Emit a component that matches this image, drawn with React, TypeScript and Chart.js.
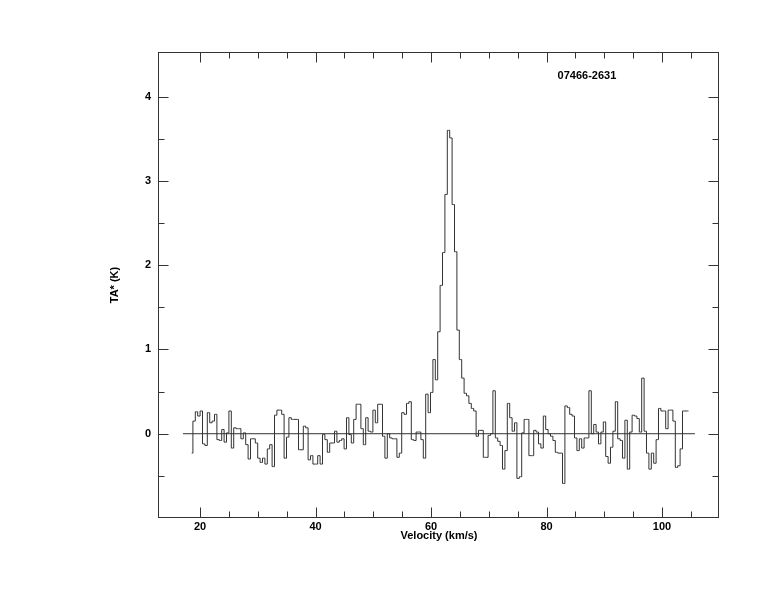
import React, { useEffect, useRef } from "react";
import { Chart, registerables } from "chart.js";

Chart.register(...registerables);

// Spectrum channels: first channel centre (km/s) and channel width (km/s)
const CHANNEL_START = 18.563;
const CHANNEL_WIDTH = 0.41558;

// Antenna temperature TA* (K) per channel
const TA_VALUES = [
  -0.23, 0.15, 0.26, 0.21, 0.27, -0.12, -0.14, 0.25, 0.13, 0.15,
  0.23, -0.07, -0.08, 0.05, -0.10, 0.01, 0.27, -0.17, 0.07, 0.06,
  0.06, -0.06, 0.01, -0.13, -0.30, -0.06, -0.06, -0.11, -0.29, -0.34,
  -0.29, -0.36, -0.18, -0.13, -0.39, 0.22, 0.28, 0.28, 0.23, -0.29,
  -0.04, 0.19, 0.17, 0.17, 0.17, -0.19, -0.19, 0.09, 0.07, -0.31,
  -0.26, -0.36, -0.36, -0.26, -0.36, -0.01, -0.07, -0.22, -0.11, -0.11,
  0.03, -0.10, -0.08, -0.06, -0.18, 0.19, -0.01, -0.11, 0.17, 0.35,
  0.35, 0.06, -0.13, 0.19, 0.03, 0.02, 0.28, 0.13, 0.35, 0.35,
  -0.03, -0.29, 0.00, -0.05, -0.06, -0.06, -0.28, -0.23, 0.25, 0.23,
  0.36, 0.38, -0.07, -0.08, 0.02, 0.02, -0.07, -0.29, 0.47, 0.25,
  0.49, 0.88, 0.64, 1.21, 1.76, 2.15, 2.84, 3.60, 3.51, 2.72,
  2.16, 1.23, 0.88, 0.66, 0.48, 0.45, 0.36, 0.30, 0.27, -0.03,
  0.04, 0.04, -0.28, -0.28, -0.02, 0.00, 0.51, -0.05, -0.09, -0.14,
  -0.42, -0.20, 0.36, 0.19, 0.03, 0.13, -0.53, -0.51, 0.01, 0.17,
  0.17, -0.26, -0.26, 0.04, 0.02, -0.12, -0.17, 0.21, 0.05, 0.00,
  -0.03, -0.08, -0.22, -0.23, -0.23, -0.59, 0.33, 0.31, 0.23, 0.21,
  -0.05, -0.20, -0.06, -0.17, -0.05, -0.05, 0.51, 0.00, 0.11, 0.02,
  -0.12, 0.02, 0.14, -0.27, -0.35, -0.16, 0.03, 0.38, -0.06, -0.08,
  -0.29, 0.16, -0.42, 0.02, 0.22, 0.21, 0.18, 0.02, 0.66, 0.03,
  -0.23, -0.42, -0.23, -0.35, -0.07, 0.30, 0.27, 0.27, 0.06, 0.28,
  0.28, 0.15, -0.40, -0.38, -0.18, 0.27, 0.27, 0.27,
];

// Baseline (TA* = 0) drawn across the spectrum
const BASELINE_X = [17.06, 105.7];
const BASELINE_Y = [0, 0];

// Axis ranges and ticks
const X_RANGE = [12.9, 109.87];
const Y_RANGE = [-1.0, 4.53];
const X_TICKS = [20, 40, 60, 80, 100];
const X_MINOR = [25, 30, 35, 45, 50, 55, 65, 70, 75, 85, 90, 95, 105];
const Y_TICKS = [0, 1, 2, 3, 4];
const Y_MINOR = [-0.5, 0.5, 1.5, 2.5, 3.5];

const X_TITLE = "Velocity (km/s)";
const Y_TITLE = "TA* (K)";
const SOURCE_NAME = "07466-2631";
const SOURCE_POS = [87.0, 4.25];

const LINE_COLOR = "#333333";
const FONT = 'bold 11px "Liberation Sans", Arial, Helvetica, sans-serif';

const framePlugin = {
  id: "frameTicks",
  afterDraw(chart: any) {
    const { ctx, chartArea: a, scales } = chart;
    const xs = scales.x;
    const ys = scales.y;
    ctx.save();
    ctx.strokeStyle = LINE_COLOR;
    ctx.lineWidth = 1;
    const L = Math.round(a.left) - 0.5;
    const R = Math.round(a.right) - 0.5;
    const T = Math.round(a.top) + 0.5;
    const B = Math.round(a.bottom) - 0.5;
    ctx.strokeRect(L, T, R - L, B - T);
    ctx.beginPath();
    const xt = (v: number, len: number) => {
      const px = Math.round(xs.getPixelForValue(v)) + 0.5;
      ctx.moveTo(px, B);
      ctx.lineTo(px, B - len);
      ctx.moveTo(px, T);
      ctx.lineTo(px, T + len);
    };
    const yt = (v: number, len: number) => {
      const py = Math.round(ys.getPixelForValue(v)) + 0.5;
      ctx.moveTo(L, py);
      ctx.lineTo(L + len, py);
      ctx.moveTo(R, py);
      ctx.lineTo(R - len, py);
    };
    X_TICKS.forEach((v) => xt(v, 10));
    X_MINOR.forEach((v) => xt(v, 6));
    Y_TICKS.forEach((v) => yt(v, 10));
    Y_MINOR.forEach((v) => yt(v, 6));
    ctx.stroke();

    ctx.fillStyle = "#000";
    ctx.font = FONT;
    ctx.textAlign = "center";
    ctx.textBaseline = "middle";
    ctx.fillText(X_TITLE, (a.left + a.right) / 2, a.bottom + 18);
    ctx.save();
    ctx.translate(a.left - 44, (a.top + a.bottom) / 2);
    ctx.rotate(-Math.PI / 2);
    ctx.fillText(Y_TITLE, 0, 0);
    ctx.restore();
    ctx.fillText(
      SOURCE_NAME,
      xs.getPixelForValue(SOURCE_POS[0]),
      ys.getPixelForValue(SOURCE_POS[1])
    );
    ctx.restore();
  },
};

export default function App() {
  const ref = useRef<HTMLCanvasElement | null>(null);

  useEffect(() => {
    if (!ref.current) return;
    const spectrum = TA_VALUES.map((y, i) => ({
      x: CHANNEL_START + i * CHANNEL_WIDTH,
      y,
    }));
    const baseline = BASELINE_X.map((x, i) => ({ x, y: BASELINE_Y[i] }));
    const chart = new Chart(ref.current, {
      type: "line",
      data: {
        datasets: [
          {
            data: spectrum,
            stepped: "middle",
            borderColor: LINE_COLOR,
            borderWidth: 1,
            pointRadius: 0,
            fill: false,
          },
          {
            data: baseline,
            borderColor: LINE_COLOR,
            borderWidth: 1,
            pointRadius: 0,
            fill: false,
          },
        ],
      },
      options: {
        animation: false,
        responsive: false,
        events: [],
        layout: { padding: { left: 0, right: 55, top: 52, bottom: 0 } },
        plugins: {
          legend: { display: false },
          tooltip: { enabled: false },
          title: { display: false },
        },
        scales: {
          x: {
            type: "linear",
            min: X_RANGE[0],
            max: X_RANGE[1],
            grid: { display: false, drawTicks: false },
            border: { display: false },
            afterBuildTicks: (s: any) => {
              s.ticks = X_TICKS.map((value) => ({ value }));
            },
            afterFit: (s: any) => {
              s.height = 94;
            },
            ticks: {
              color: "#000",
              font: { family: '"Liberation Sans", Arial, sans-serif', size: 11, weight: "bold" },
              padding: 2,
              maxRotation: 0,
              autoSkip: false,
            },
          },
          y: {
            type: "linear",
            min: Y_RANGE[0],
            max: Y_RANGE[1],
            grid: { display: false, drawTicks: false },
            border: { display: false },
            afterBuildTicks: (s: any) => {
              s.ticks = Y_TICKS.map((value) => ({ value }));
            },
            afterFit: (s: any) => {
              s.width = 159;
            },
            ticks: {
              color: "#000",
              font: { family: '"Liberation Sans", Arial, sans-serif', size: 11, weight: "bold" },
              padding: 8,
              autoSkip: false,
            },
          },
        },
      },
      plugins: [framePlugin],
    });
    return () => chart.destroy();
  }, []);

  return (
    <div style={{ position: "absolute", left: 0, top: 0, width: 774, height: 612, background: "#fff" }}>
      <canvas ref={ref} width={774} height={612} style={{ width: 774, height: 612, display: "block" }} />
    </div>
  );
}
